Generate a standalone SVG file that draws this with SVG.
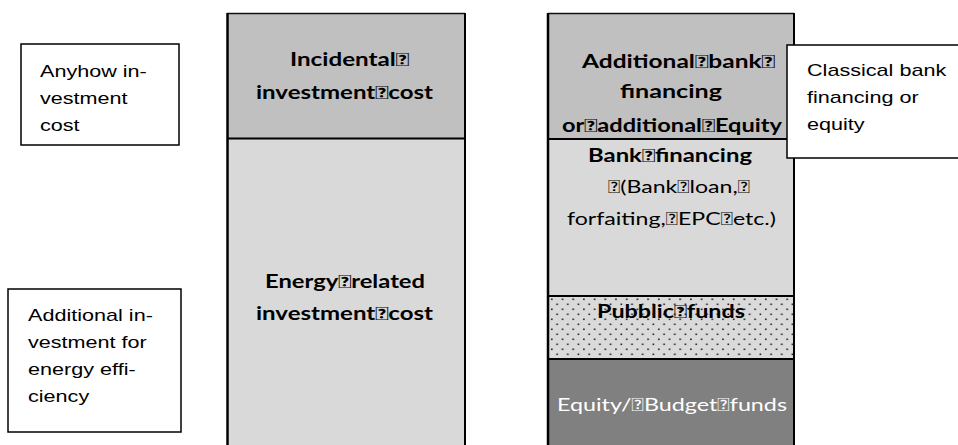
<svg xmlns="http://www.w3.org/2000/svg" width="958" height="445" viewBox="0 0 958 445">
  <defs>
    <pattern id="dots" width="10.7" height="10" patternUnits="userSpaceOnUse" x="549" y="297">
      <rect width="10.7" height="10" fill="#dadada"/>
      <rect x="2" y="1.5" width="1.6" height="1.6" fill="#222"/>
      <rect x="7.3" y="6.5" width="1.6" height="1.6" fill="#222"/>
    </pattern>
    <style>
      .col { font-family: Lato, "Open Sans", sans-serif; font-size: 18px; fill: #000; text-anchor: middle; }
      .b { font-weight: bold; }
      .lab { font-family: "Liberation Sans", Arial, sans-serif; font-size: 16px; fill: #000; }
      .box { fill: #fff; stroke: #000; stroke-width: 1.5; }
      .sep { stroke: #000; stroke-width: 2; }
    </style>
  </defs>

  <g id="left-column">
    <rect x="227" y="13" width="238" height="125" fill="#c0c0c0"/>
    <rect x="227" y="138" width="238" height="310" fill="#d9d9d9"/>
    <line class="sep" x1="227" y1="138.5" x2="465" y2="138.5" stroke-width="1.5"/>
    <line x1="227" y1="13.5" x2="465" y2="13.5" stroke="#111" stroke-width="1.5"/>
    <line x1="227.5" y1="13" x2="227.5" y2="445" stroke="#000" stroke-width="2.5"/>
    <line x1="465" y1="13" x2="465" y2="445" stroke="#000" stroke-width="2"/>
    <text class="col b" x="349.5" y="66" textLength="119" lengthAdjust="spacingAndGlyphs">Incidental&#xF020;</text>
    <text class="col b" x="344.5" y="99" textLength="177" lengthAdjust="spacingAndGlyphs">investment&#xF020;cost</text>
    <text class="col b" x="345" y="288" textLength="160" lengthAdjust="spacingAndGlyphs">Energy&#xF020;related</text>
    <text class="col b" x="344.5" y="320" textLength="177" lengthAdjust="spacingAndGlyphs">investment&#xF020;cost</text>
  </g>

  <g id="right-column">
    <rect x="548" y="13" width="246" height="126" fill="#c0c0c0"/>
    <rect x="548" y="139" width="246" height="157" fill="#d9d9d9"/>
    <rect x="548" y="296" width="246" height="63" fill="url(#dots)"/>
    <rect x="548" y="359" width="246" height="90" fill="#808080"/>
    <line x1="548" y1="13.5" x2="794" y2="13.5" stroke="#111" stroke-width="1.5"/>
    <line class="sep" x1="548" y1="139" x2="794" y2="139" stroke-width="1.5"/>
    <line class="sep" x1="548" y1="296" x2="794" y2="296"/>
    <line class="sep" x1="548" y1="359" x2="794" y2="359"/>
    <line x1="548" y1="13" x2="548" y2="445" stroke="#000" stroke-width="2.5"/>
    <line x1="794" y1="13" x2="794" y2="445" stroke="#000" stroke-width="2"/>
    <text class="col b" x="678.5" y="68" textLength="193" lengthAdjust="spacingAndGlyphs">Additional&#xF020;bank&#xF020;</text>
    <text class="col b" x="671" y="98" textLength="102" lengthAdjust="spacingAndGlyphs">financing</text>
    <text class="col b" x="672" y="132" textLength="220" lengthAdjust="spacingAndGlyphs">or&#xF020;additional&#xF020;Equity</text>
    <text class="col b" x="670" y="162" textLength="164" lengthAdjust="spacingAndGlyphs">Bank&#xF020;financing</text>
    <text class="col" x="679" y="193" textLength="142" lengthAdjust="spacingAndGlyphs">&#xF020;(Bank&#xF020;loan,&#xF020;</text>
    <text class="col" x="671.5" y="225" textLength="209" lengthAdjust="spacingAndGlyphs">forfaiting,&#xF020;EPC&#xF020;etc.)</text>
    <text class="col b" x="671" y="318" textLength="148" lengthAdjust="spacingAndGlyphs">Pubblic&#xF020;funds</text>
    <text class="col" x="672" y="411" textLength="230" lengthAdjust="spacingAndGlyphs" style="fill:#fff">Equity/&#xF020;Budget&#xF020;funds</text>
  </g>

  <g id="label-anyhow">
    <rect class="box" x="21" y="44" width="158" height="101"/>
    <text class="lab" transform="translate(40,77) scale(1.35,1)">Anyhow in-</text>
    <text class="lab" transform="translate(40,104) scale(1.35,1)">vestment</text>
    <text class="lab" transform="translate(40,131) scale(1.35,1)">cost</text>
  </g>

  <g id="label-additional">
    <rect class="box" x="8" y="289" width="173" height="143"/>
    <text class="lab" transform="translate(28,321) scale(1.35,1)">Additional in-</text>
    <text class="lab" transform="translate(28,348) scale(1.35,1)">vestment for</text>
    <text class="lab" transform="translate(28,375) scale(1.35,1)">energy effi-</text>
    <text class="lab" transform="translate(28,402) scale(1.35,1)">ciency</text>
  </g>

  <g id="label-classical">
    <rect class="box" x="787" y="45" width="175" height="113"/>
    <text class="lab" transform="translate(807,76) scale(1.35,1)">Classical bank</text>
    <text class="lab" transform="translate(807,103) scale(1.35,1)">financing or</text>
    <text class="lab" transform="translate(807,130) scale(1.35,1)">equity</text>
  </g>

  <g id="connectors"></g>
</svg>
